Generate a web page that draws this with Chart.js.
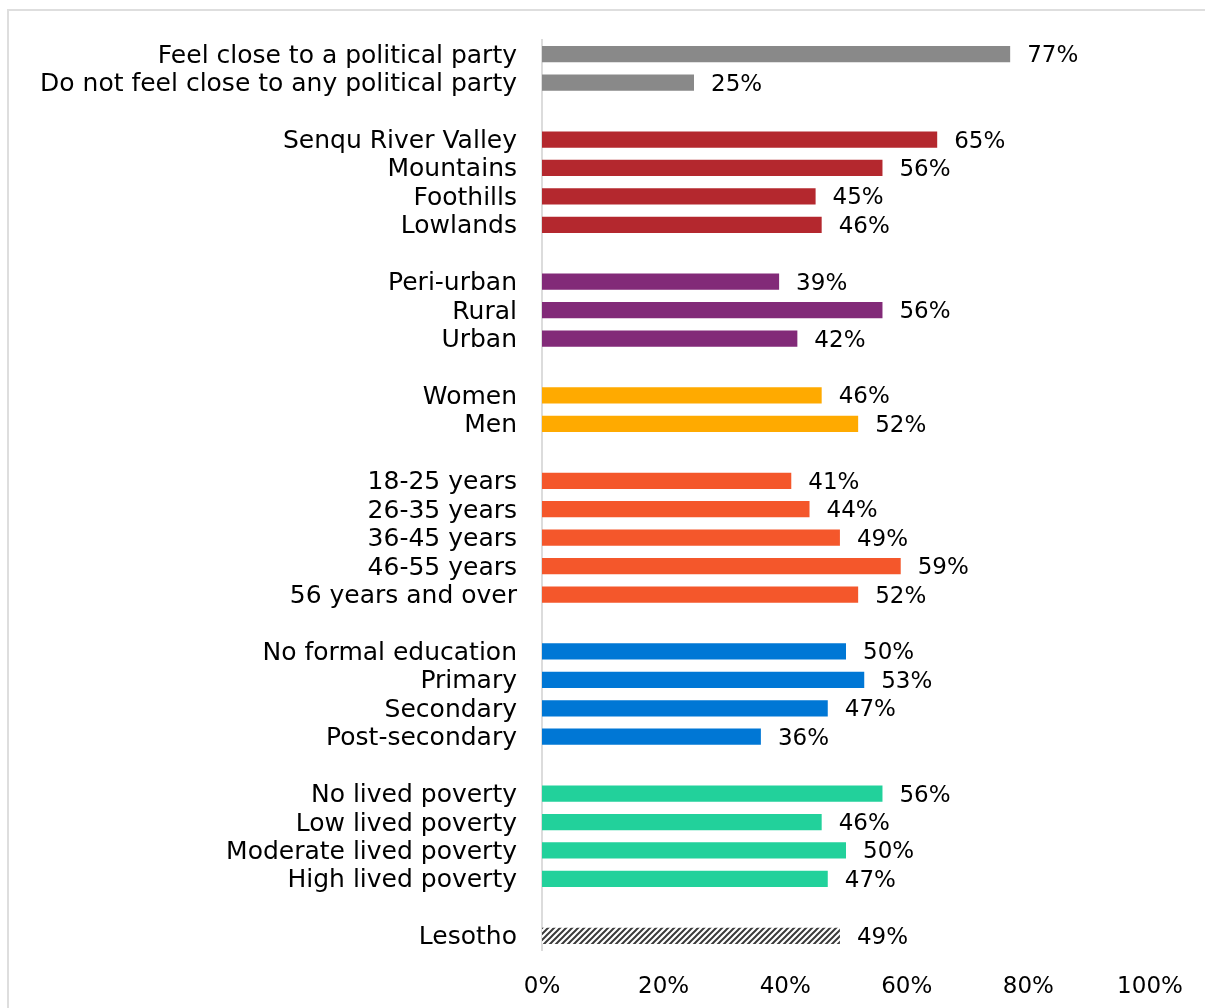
<!DOCTYPE html>
<html>
<head>
<meta charset="utf-8">
<script src="https://cdn.jsdelivr.net/npm/chart.js@4"></script>
<style>
  html, body { margin: 0; padding: 0; background: #fff; overflow: hidden; }
  #frame {
    position: absolute; left: 7px; top: 9px; width: 1400px; height: 1200px;
    border-top: 2px solid #dedede; border-left: 2px solid #dedede;
  }
  #wrap { position: absolute; left: 0; top: 0; width: 1205px; height: 1008px; }
</style>
</head>
<body>
<div id="frame"></div>
<div id="wrap"><canvas id="partyChart"></canvas></div>
<script>
  // Linhas do gráfico (strings vazias = espaço entre grupos)
  const labels = [
    'Feel close to a political party', 'Do not feel close to any political party', '',
    'Senqu River Valley', 'Mountains', 'Foothills', 'Lowlands', '',
    'Peri-urban', 'Rural', 'Urban', '',
    'Women', 'Men', '',
    '18-25 years', '26-35 years', '36-45 years', '46-55 years', '56 years and over', '',
    'No formal education', 'Primary', 'Secondary', 'Post-secondary', '',
    'No lived poverty', 'Low lived poverty', 'Moderate lived poverty', 'High lived poverty', '',
    'Lesotho'
  ];
  const values = [
    77, 25, null,
    65, 56, 45, 46, null,
    39, 56, 42, null,
    46, 52, null,
    41, 44, 49, 59, 52, null,
    50, 53, 47, 36, null,
    56, 46, 50, 47, null,
    49
  ];
  const groups = [
    'party', 'party', '',
    'region', 'region', 'region', 'region', '',
    'location', 'location', 'location', '',
    'gender', 'gender', '',
    'age', 'age', 'age', 'age', 'age', '',
    'edu', 'edu', 'edu', 'edu', '',
    'poverty', 'poverty', 'poverty', 'poverty', '',
    'total'
  ];
  const xTicks = [0, 20, 40, 60, 80, 100];

  const FONT = 'DejaVu Sans';
  const LABEL_SIZE = 25;  // nomes das categorias
  const NUM_SIZE = 23;    // percentagens

  // Padrão listrado para a barra do total nacional
  function hatchPattern() {
    const c = document.createElement('canvas');
    c.width = 6; c.height = 6;
    const g = c.getContext('2d');
    g.fillStyle = '#ffffff';
    g.fillRect(0, 0, 6, 6);
    g.strokeStyle = '#3a3a3a';
    g.lineWidth = 2;
    g.beginPath();
    g.moveTo(-1, 7); g.lineTo(7, -1);
    g.moveTo(-4, 4); g.lineTo(4, -4);
    g.moveTo(2, 10); g.lineTo(10, 2);
    g.stroke();
    return g.createPattern(c, 'repeat');
  }

  const groupColors = {
    party: '#898989',
    region: '#b4282e',
    location: '#822a78',
    gender: '#ffaa00',
    age: '#f4572b',
    edu: '#0077d5',
    poverty: '#22d19b',
    total: hatchPattern()
  };

  // Rótulos de valor ao lado de cada barra
  const valueLabels = {
    id: 'valueLabels',
    afterDatasetsDraw(chart) {
      const { ctx } = chart;
      const meta = chart.getDatasetMeta(0);
      ctx.save();
      ctx.font = NUM_SIZE + 'px "' + FONT + '"';
      ctx.fillStyle = '#000';
      ctx.textAlign = 'left';
      ctx.textBaseline = 'middle';
      meta.data.forEach((bar, i) => {
        if (values[i] === null) return;
        ctx.fillText(values[i] + '%', bar.x + 17, bar.y + 2);
      });
      ctx.restore();
    }
  };

  const ctx = document.getElementById('partyChart').getContext('2d');
  new Chart(ctx, {
    type: 'bar',
    data: {
      labels: labels,
      datasets: [{
        data: values,
        backgroundColor: groups.map(g => groupColors[g] || 'transparent'),
        barPercentage: 0.57,
        categoryPercentage: 1.0
      }]
    },
    options: {
      indexAxis: 'y',
      responsive: true,
      maintainAspectRatio: false,
      animation: false,
      layout: { padding: { top: 40, right: 55, left: 0, bottom: 0 } },
      plugins: { legend: { display: false }, tooltip: { enabled: false } },
      scales: {
        x: {
          min: 0,
          max: 100,
          afterBuildTicks: scale => { scale.ticks = xTicks.map(v => ({ value: v })); },
          afterFit: scale => { scale.height = 58; },
          grid: { display: false },
          border: { display: false },
          ticks: {
            padding: 15,
            color: '#000',
            font: { family: FONT, size: NUM_SIZE },
            callback: v => v + '%'
          }
        },
        y: {
          afterFit: scale => { scale.width = 542; },
          grid: { display: false },
          border: { display: true, color: '#dcdcdc', width: 2 },
          ticks: {
            padding: 17,
            labelOffset: 2,
            color: '#000',
            autoSkip: false,
            font: { family: FONT, size: LABEL_SIZE }
          }
        }
      }
    },
    plugins: [valueLabels]
  });
</script>
</body>
</html>
